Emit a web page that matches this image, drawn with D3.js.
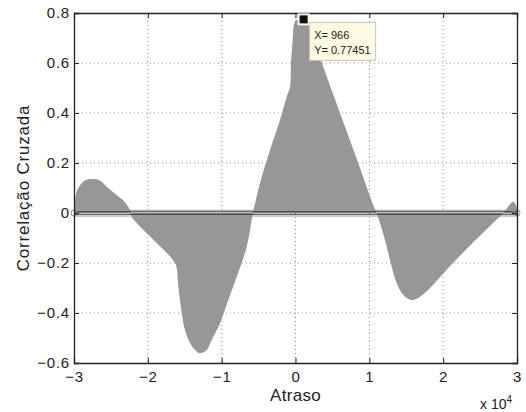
<!DOCTYPE html>
<html>
<head>
<meta charset="utf-8">
<script src="https://cdn.jsdelivr.net/npm/d3@7"></script>
<style>
  body { margin: 0; background: #fff; }
  svg text { font-family: "Liberation Sans", Arial, Helvetica, sans-serif; fill: #222; }
</style>
</head>
<body>
<svg width="526" height="412"></svg>
<script>
// data (lag in samples, correlation)
var lags = [-30000, -29640, -29190, -28510, -27390, -26480, -25570, -24220, -23320, -22420, -22190,
            -21510, -19940, -18350, -17000, -16320, -16090, -15870, -15410, -14970, -14290,
            -13610, -12940, -12030, -11350, -10230, -9100, -7960, -6610, -5760, -4810, -3450, -2100,
            -1190, -740, -610, -380, -160, 160, 966, 1730, 2870, 4670, 6030, 7380, 8740,
            10500, 11000, 12120, 12800, 13710, 14600, 15240, 15960, 16860, 18220, 20930, 23640,
            26340, 28150, 29500, 30000];
var corr = [0.03, 0.085, 0.11, 0.13, 0.136, 0.13, 0.105, 0.072, 0.05, 0.012, -0.015,
            -0.04, -0.087, -0.133, -0.173, -0.2, -0.218, -0.295, -0.40, -0.468, -0.52,
            -0.548, -0.561, -0.548, -0.508, -0.441, -0.348, -0.255, -0.135, 0, 0.119, 0.252, 0.372,
            0.465, 0.505, 0.60, 0.69, 0.759, 0.772, 0.77451, 0.759, 0.66, 0.51, 0.40, 0.29, 0.18,
            0.034, 0, -0.108, -0.188, -0.281, -0.328, -0.343, -0.348, -0.335, -0.3, -0.212, -0.13,
            -0.052, 0, 0.045, 0.02];

var xTicks = [-30000, -20000, -10000, 0, 10000, 20000, 30000];
var yTicks = [-0.6, -0.4, -0.2, 0, 0.2, 0.4, 0.6, 0.8];
var peak = { lag: 966, value: 0.77451 };

var margin = { top: 13, right: 9, bottom: 49, left: 74 },
    width  = 526 - margin.left - margin.right,
    height = 412 - margin.top - margin.bottom;

var data = lags.map(function(d, i) { return { lag: d, r: corr[i] }; });

var x = d3.scaleLinear().domain([-30000, 30000]).range([0, width]);
var y = d3.scaleLinear().domain([-0.6, 0.8]).range([height, 0]);

var minus = function(s) { return s.replace('-', '\u2212'); };

var svg = d3.select('svg')
    .append('g')
    .attr('transform', 'translate(' + margin.left + ',' + margin.top + ')');

// grid
svg.append('g').selectAll('line')
    .data(xTicks.slice(1, -1))
    .enter().append('line')
    .attr('x1', function(d) { return x(d); })
    .attr('x2', function(d) { return x(d); })
    .attr('y1', 0).attr('y2', height)
    .attr('stroke', '#8a8a8a').attr('stroke-dasharray', '1,3');

svg.append('g').selectAll('line')
    .data(yTicks.slice(1, -1))
    .enter().append('line')
    .attr('y1', function(d) { return y(d); })
    .attr('y2', function(d) { return y(d); })
    .attr('x1', 0).attr('x2', width)
    .attr('stroke', '#8a8a8a').attr('stroke-dasharray', '1,3');

// filled stems
var area = d3.area()
    .x(function(d) { return x(d.lag); })
    .y0(y(0))
    .y1(function(d) { return y(d.r); })
    .curve(d3.curveCatmullRom.alpha(0.5));

svg.append('path')
    .datum(data)
    .attr('d', area)
    .attr('fill', '#97979a');

// baseline band
var band = [0.011, 0.005, -0.005, -0.012];
var bandColor = ['#9a9a9a', '#333', '#333', '#9a9a9a'];
svg.append('g').selectAll('line')
    .data(band)
    .enter().append('line')
    .attr('x1', 0).attr('x2', width)
    .attr('y1', function(d) { return y(d); })
    .attr('y2', function(d) { return y(d); })
    .attr('stroke', function(d, i) { return bandColor[i]; })
    .attr('stroke-width', 1.2);

svg.append('g').selectAll('circle')
    .data([-30000, 30000])
    .enter().append('circle')
    .attr('cx', function(d) { return x(d); })
    .attr('cy', y(0))
    .attr('r', 3)
    .attr('fill', 'none')
    .attr('stroke', '#8a8a8a');

// axes, ticks inside on all four sides
var tl = 5;
svg.append('g').attr('transform', 'translate(0,' + height + ')')
    .call(d3.axisBottom(x).tickValues(xTicks).tickSize(-tl).tickPadding(8)
        .tickFormat(function(d) { return minus(String(d / 10000)); }));
svg.append('g')
    .call(d3.axisTop(x).tickValues(xTicks).tickSize(-tl).tickFormat(''));
svg.append('g')
    .call(d3.axisLeft(y).tickValues(yTicks).tickSize(-tl).tickPadding(4)
        .tickFormat(function(d) { return Math.abs(d) < 1e-9 ? '0' : minus(d.toFixed(1)); }));
svg.append('g').attr('transform', 'translate(' + width + ',0)')
    .call(d3.axisRight(y).tickValues(yTicks).tickSize(-tl).tickFormat(''));

svg.selectAll('.domain').attr('stroke', '#222').attr('stroke-width', 1.3);
svg.selectAll('.tick line').attr('stroke', '#222');
svg.selectAll('.tick text').style('font-size', '15px').style('letter-spacing', '0.8px').attr('fill', '#222');

// labels
svg.append('text')
    .attr('x', width / 2).attr('y', height + 38)
    .attr('text-anchor', 'middle')
    .style('font-size', '17px')
    .style('letter-spacing', '0.3px')
    .text('Atraso');

var expo = svg.append('text')
    .attr('x', width - 37).attr('y', height + 46)
    .style('font-size', '14px');
expo.append('tspan').text('x 10');
expo.append('tspan').attr('dy', -6).style('font-size', '10px').text('4');

svg.append('text')
    .attr('transform', 'translate(' + (-45) + ',' + (height / 2) + ') rotate(-90)')
    .attr('text-anchor', 'middle')
    .style('font-size', '17px')
    .style('letter-spacing', '0.8px')
    .text('Correlação Cruzada');

// data tip
var px = x(peak.lag), py = y(peak.value);
var tip = svg.append('g');
tip.append('rect')
    .attr('x', px + 7).attr('y', py + 3)
    .attr('width', 66).attr('height', 38)
    .attr('fill', '#fffbe3').attr('stroke', '#c9c6b4');
tip.append('rect')
    .attr('x', px - 5).attr('y', py - 6)
    .attr('width', 12).attr('height', 12)
    .attr('fill', '#fffbe3');
tip.append('rect')
    .attr('x', px - 3).attr('y', py - 4)
    .attr('width', 8).attr('height', 8)
    .attr('fill', '#111');
tip.append('text')
    .attr('x', px + 11.5).attr('y', py + 20)
    .style('font-size', '11px')
    .text('X= ' + peak.lag);
tip.append('text')
    .attr('x', px + 11.5).attr('y', py + 35)
    .style('font-size', '11px')
    .text('Y= ' + peak.value);
</script>
</body>
</html>
